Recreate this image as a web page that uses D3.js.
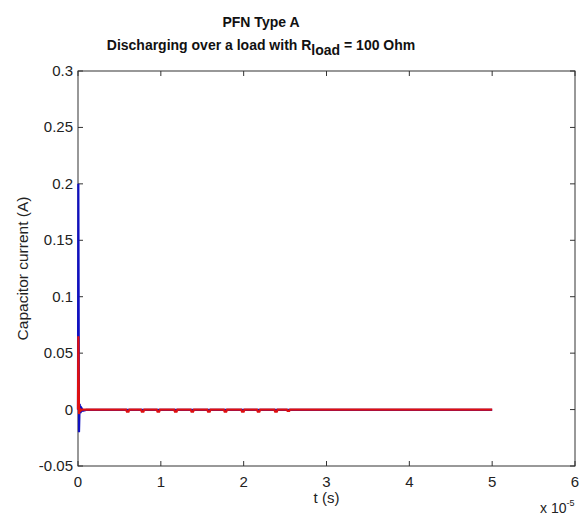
<!DOCTYPE html>
<html><head><meta charset="utf-8">
<script src="https://cdn.jsdelivr.net/npm/d3@7"></script>
<style>body{margin:0;background:#fff}svg{display:block}text{font-family:"Liberation Sans",Arial,sans-serif}</style>
</head><body>
<svg id="c" width="586" height="520"></svg>
<script>
// time in units of 1e-5 s
const xTicks = [0,1,2,3,4,5,6];
const yTicks = [-0.05,0,0.05,0.1,0.15,0.2,0.25,0.3];
const yTickLabels = ["-0.05","0","0.05","0.1","0.15","0.2","0.25","0.3"];
const blueT = [0, 0.004, 0.012, 0.02, 0.03, 0.045, 0.06, 0.1, 1, 2, 3, 4, 5];
const blueV = [0, 0.2, -0.02, 0.005, -0.003, 0.001, -0.001, -0.0003, -0.0003, -0.0003, -0.0002, -0.0002, -0.0002];
const redT = [0, 0.004, 0.012, 0.02, 0.03, 0.05,
  0.58,0.59,0.61,0.62, 0.76,0.77,0.79,0.80, 0.95,0.96,0.98,0.99, 1.16,1.17,1.19,1.20,
  1.36,1.37,1.39,1.40, 1.56,1.57,1.59,1.60, 1.76,1.77,1.79,1.80, 1.97,1.98,2.00,2.01,
  2.16,2.17,2.19,2.20, 2.37,2.38,2.40,2.41, 2.52,2.53,2.55,2.56, 3, 4, 5];
const redV = [0, 0.065, -0.004, 0.001, -0.001, 0,
  0,-0.0018,-0.0018,0, 0,-0.0018,-0.0018,0, 0,-0.0018,-0.0018,0, 0,-0.0018,-0.0018,0,
  0,-0.0018,-0.0018,0, 0,-0.0018,-0.0018,0, 0,-0.0018,-0.0018,0, 0,-0.0018,-0.0018,0,
  0,-0.0018,-0.0018,0, 0,-0.0018,-0.0018,0, 0,-0.0012,-0.0012,0, 0, 0, 0];

const svg = d3.select("#c");
const L=78, R=575, T=71, B=466;
const x = d3.scaleLinear().domain([0,6]).range([L,R]);
const y = d3.scaleLinear().domain([-0.05,0.3]).range([B,T]);

svg.append("rect").attr("x",L).attr("y",T).attr("width",R-L).attr("height",B-T)
  .attr("fill","#fff").attr("stroke","#333").attr("stroke-width",1);

const tk=5;
const g = svg.append("g").attr("stroke","#333").attr("stroke-width",1);
xTicks.forEach(v=>{
  g.append("line").attr("x1",x(v)).attr("x2",x(v)).attr("y1",B).attr("y2",B-tk);
  g.append("line").attr("x1",x(v)).attr("x2",x(v)).attr("y1",T).attr("y2",T+tk);
});
yTicks.forEach(v=>{
  g.append("line").attr("x1",L).attr("x2",L+tk).attr("y1",y(v)).attr("y2",y(v));
  g.append("line").attr("x1",R).attr("x2",R-tk).attr("y1",y(v)).attr("y2",y(v));
});

const lbl = svg.append("g").attr("font-size",15).attr("fill","#222");
xTicks.forEach(v=>{
  lbl.append("text").attr("x",x(v)).attr("y",B+21).attr("text-anchor","middle").text(v);
});
yTicks.forEach((v,i)=>{
  lbl.append("text").attr("x",L-5).attr("y",y(v)+5).attr("text-anchor","end").text(yTickLabels[i]);
});

const line = d3.line().x(d=>x(d[0])).y(d=>y(d[1]));
svg.append("path").datum(blueT.map((t,i)=>[t,blueV[i]])).attr("d",line)
  .attr("fill","none").attr("stroke","#1010c0").attr("stroke-width",2.2);
svg.append("path").datum(redT.map((t,i)=>[t,redV[i]])).attr("d",line)
  .attr("fill","none").attr("stroke","#e01010").attr("stroke-width",2.2);

svg.append("text").attr("x",x(3)).attr("y",B+37).attr("text-anchor","middle")
  .attr("font-size",15).attr("fill","#222").text("t (s)");
svg.append("text").attr("transform",`translate(28,${(T+B)/2}) rotate(-90)`)
  .attr("text-anchor","middle").attr("font-size",15.5).attr("fill","#222").text("Capacitor current (A)");
const ex = svg.append("text").attr("x",540).attr("y",513).attr("font-size",14).attr("fill","#222");
ex.append("tspan").text("x 10");
ex.append("tspan").attr("dy",-7).attr("font-size",9).text("-5");

svg.append("text").attr("x",261).attr("y",27).attr("text-anchor","middle")
  .attr("font-size",14).attr("font-weight","bold").attr("fill","#111").text("PFN Type A");
const t2 = svg.append("text").attr("x",261).attr("y",50).attr("text-anchor","middle")
  .attr("font-size",14).attr("font-weight","bold").attr("fill","#111");
t2.append("tspan").text("Discharging over a load with R");
t2.append("tspan").attr("dy",5).text("load");
t2.append("tspan").attr("dy",-5).text(" = 100 Ohm");
</script>
</body></html>
